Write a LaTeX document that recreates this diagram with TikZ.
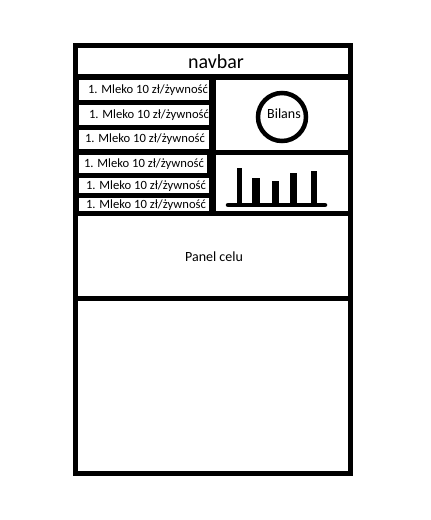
\documentclass[tikz,border=0pt]{standalone}
\usepackage{fontspec}
\setmainfont{Carlito}
\begin{document}
\begin{tikzpicture}[x=1pt,y=-1pt,
  frame/.style={draw=black,line width=5pt},
  item/.style={fill=white,draw=none},
  itemtxt/.style={font=\fontsize{12.6}{14}\selectfont,inner sep=0pt,anchor=center},
  bar/.style={fill=black,draw=none}]
\useasboundingbox (0,0) rectangle (431,520);
\fill[white] (0,0) rectangle (431,520);
% left column background
\fill[black] (76,77) rectangle (216,216);
% item boxes
\fill[item] (79,80) rectangle (209,100);
\fill[item] (79,105) rectangle (209,125);
\fill[item] (79,130) rectangle (209,149);
\fill[item] (79,155) rectangle (207,173);
\fill[item] (79,178) rectangle (209,193);
\fill[item] (79,198) rectangle (209,212);
\node[itemtxt] (i1) at (148,90.5) {1. Mleko 10 zł/żywność};
\node[itemtxt] (i2) at (149,115) {1. Mleko 10 zł/żywność};
\node[itemtxt] (i3) at (145,139.5) {1. Mleko 10 zł/żywność};
\node[itemtxt] (i4) at (144,164) {1. Mleko 10 zł/żywność};
\node[itemtxt] (i5) at (146,186) {1. Mleko 10 zł/żywność};
\node[itemtxt] (i6) at (146,205) {1. Mleko 10 zł/żywność};
% frame lines
\draw[frame] (75.5,45) rectangle (350.5,473.5);
\draw[black,line width=6pt] (75.5,77) -- (350.5,77);
\draw[frame] (213.5,77) -- (213.5,216);
\draw[frame] (213.5,152.5) -- (350.5,152.5);
\draw[frame] (75.5,213.5) -- (350.5,213.5);
\draw[frame] (75.5,298.5) -- (350.5,298.5);
% texts
\node[font=\fontsize{20}{24}\selectfont,inner sep=0pt] (nav) at (216,62) {navbar};
\node[draw=black,line width=4.5pt,circle,minimum size=48pt,inner sep=0pt] (bil) at (282,117) {};
\node[font=\fontsize{14}{16}\selectfont,inner sep=0pt] (biltxt) at (284,114) {Bilans};
\node[font=\fontsize{14}{16}\selectfont,inner sep=0pt] (panel) at (214,257) {Panel celu};
% chart
\fill[bar] (236.5,168) rectangle (242,205);
\fill[bar] (252,178) rectangle (260,205);
\fill[bar] (272,181) rectangle (279,205);
\fill[bar] (290,173) rectangle (297,205);
\fill[bar] (311,171) rectangle (317,205);
\coordinate (ax1) at (228,205);
\coordinate (ax2) at (325,205);
\draw[black,line width=4.5pt,line cap=round] (ax1) -- (ax2);
\end{tikzpicture}
\end{document}
